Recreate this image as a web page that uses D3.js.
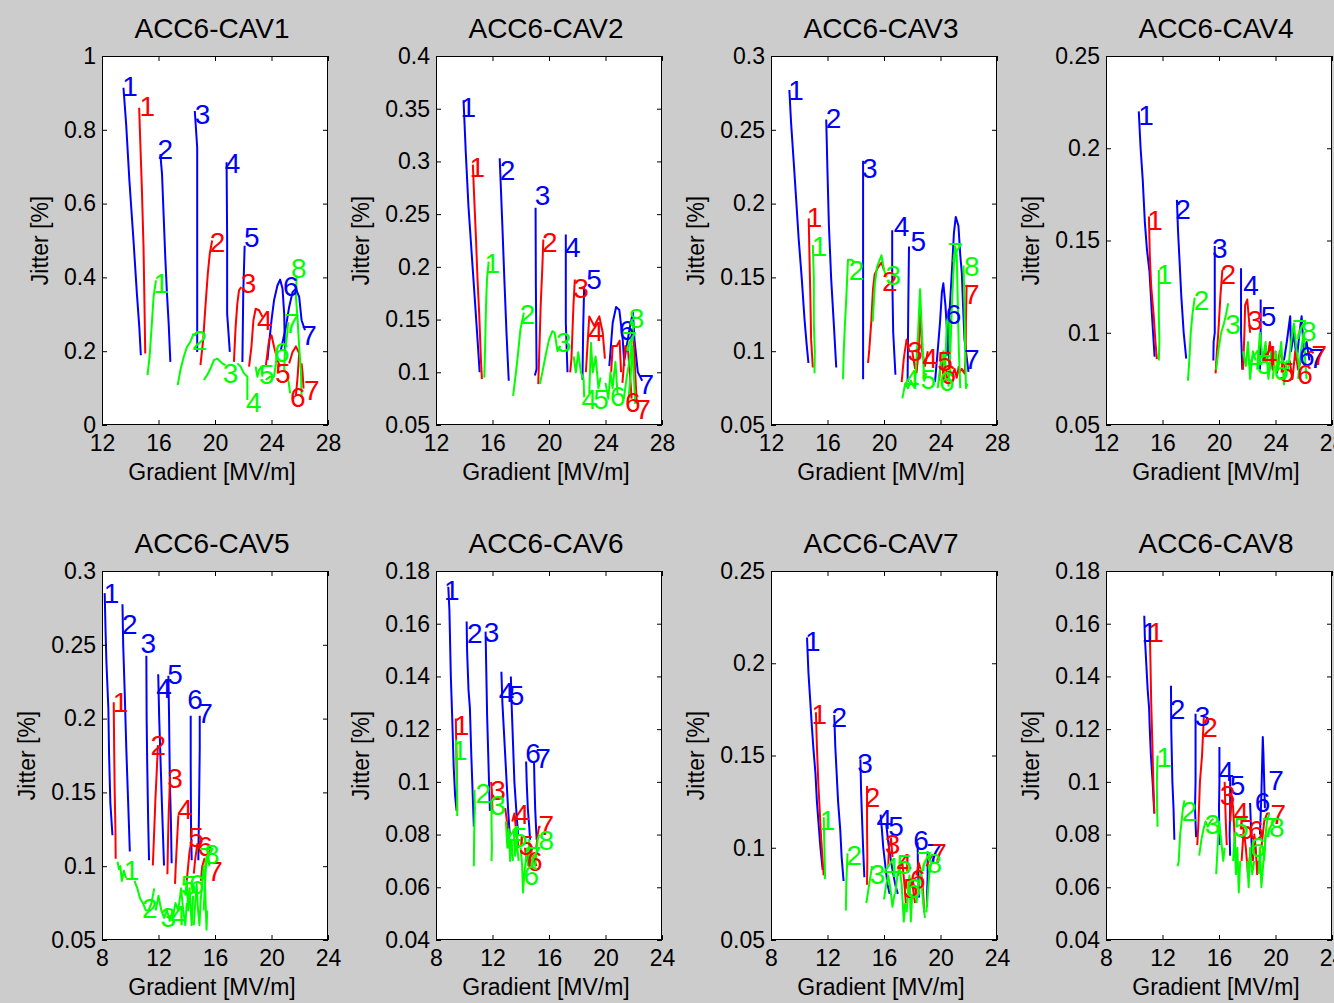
<!DOCTYPE html>
<html>
<head>
<meta charset="utf-8">
<script src="https://cdn.jsdelivr.net/npm/d3@7"></script>
<style>
  html, body { margin: 0; padding: 0; background: #cccccc; }
  svg { display: block; }
</style>
</head>
<body>
<svg id="fig" width="1334" height="1003"></svg>
<script>
// ---- panel set-up -------------------------------------------------------
const titles = ["ACC6-CAV1", "ACC6-CAV2", "ACC6-CAV3", "ACC6-CAV4",
                "ACC6-CAV5", "ACC6-CAV6", "ACC6-CAV7", "ACC6-CAV8"];
const xDomains = [[12, 28], [12, 28], [12, 28], [12, 28], [8, 24], [8, 24], [8, 24], [8, 24]];
const xTicks = [
  [12, 16, 20, 24, 28], [12, 16, 20, 24, 28], [12, 16, 20, 24, 28], [12, 16, 20, 24, 28],
  [8, 12, 16, 20, 24], [8, 12, 16, 20, 24], [8, 12, 16, 20, 24], [8, 12, 16, 20, 24]
];
const yDomains = [[0, 1], [0.05, 0.4], [0.05, 0.3], [0.05, 0.25],
                  [0.05, 0.3], [0.04, 0.18], [0.05, 0.25], [0.04, 0.18]];
const yTicks = [
  [0, 0.2, 0.4, 0.6, 0.8, 1],
  [0.05, 0.1, 0.15, 0.2, 0.25, 0.3, 0.35, 0.4],
  [0.05, 0.1, 0.15, 0.2, 0.25, 0.3],
  [0.05, 0.1, 0.15, 0.2, 0.25],
  [0.05, 0.1, 0.15, 0.2, 0.25, 0.3],
  [0.04, 0.06, 0.08, 0.1, 0.12, 0.14, 0.16, 0.18],
  [0.05, 0.1, 0.15, 0.2, 0.25],
  [0.04, 0.06, 0.08, 0.1, 0.12, 0.14, 0.16, 0.18]
];
const xLabel = "Gradient [MV/m]";
const yLabel = "Jitter [%]";

// ---- measured traces ------------------------------------------------------
// each entry: [colour key, run number, label gradient, label jitter, [[gradient, jitter], ...]]
const cav1 = [
  ["b", 1, 13.99, 0.919, [[13.52, 0.914], [13.71, 0.815], [13.94, 0.662], [14.23, 0.5], [14.47, 0.356], [14.64, 0.266], [14.75, 0.189]]],
  ["b", 2, 16.48, 0.749, [[16.13, 0.734], [16.25, 0.68], [16.36, 0.572], [16.48, 0.455], [16.6, 0.356], [16.72, 0.275], [16.84, 0.171]]],
  ["b", 3, 19.11, 0.843, [[18.57, 0.851], [18.74, 0.752], [18.74, 0.5], [18.74, 0.198]]],
  ["b", 4, 21.25, 0.711, [[20.82, 0.712], [20.86, 0.5], [20.86, 0.302], [21.05, 0.198]]],
  ["b", 5, 22.6, 0.511, [[22.1, 0.486], [22.0, 0.356], [21.94, 0.171]]],
  ["b", 6, 25.37, 0.378, [[23.71, 0.176], [23.83, 0.221], [24.0, 0.284], [24.18, 0.338], [24.42, 0.378], [24.61, 0.394], [24.78, 0.37], [24.9, 0.3], [24.95, 0.2]]],
  ["b", 7, 26.65, 0.243, [[24.66, 0.203], [25.02, 0.266], [25.25, 0.32], [25.49, 0.36], [25.73, 0.369], [25.96, 0.347], [26.13, 0.284], [26.37, 0.257]]],
  ["r", 1, 15.2, 0.865, [[14.63, 0.86], [14.7, 0.779], [14.82, 0.644], [14.94, 0.482], [15.01, 0.32], [15.06, 0.194]]],
  ["r", 2, 20.18, 0.497, [[18.97, 0.162], [19.16, 0.23], [19.32, 0.32], [19.49, 0.41], [19.63, 0.464], [19.8, 0.5]]],
  ["r", 3, 22.38, 0.386, [[21.34, 0.171], [21.46, 0.266], [21.58, 0.329], [21.7, 0.365], [21.86, 0.374]]],
  ["r", 4, 23.52, 0.284, [[22.41, 0.158], [22.58, 0.212], [22.72, 0.284], [22.88, 0.315], [23.12, 0.311], [23.36, 0.293]]],
  ["r", 5, 24.8, 0.141, [[23.59, 0.158], [23.83, 0.23], [24.0, 0.243], [24.18, 0.212], [24.42, 0.176], [24.61, 0.158]]],
  ["r", 6, 25.87, 0.076, [[25.25, 0.167], [25.49, 0.198], [25.73, 0.213], [25.96, 0.194], [25.85, 0.131], [25.73, 0.081]]],
  ["r", 7, 26.86, 0.095, [[26.13, 0.167], [26.2, 0.14], [26.27, 0.099]]],
  ["g", 1, 16.2, 0.384, [[15.22, 0.135], [15.37, 0.185], [15.53, 0.275], [15.65, 0.347], [15.82, 0.392]]],
  ["g", 2, 18.9, 0.23, [[17.36, 0.108], [17.55, 0.149], [17.79, 0.185], [18.02, 0.212], [18.25, 0.225], [18.49, 0.248]]],
  ["g", 3, 21.1, 0.141, [[19.21, 0.122], [19.44, 0.135], [19.68, 0.153], [19.92, 0.176], [20.16, 0.18], [20.51, 0.167], [20.75, 0.162]]],
  ["g", 4, 22.74, 0.062, [[21.58, 0.167], [21.82, 0.158], [22.05, 0.14], [22.29, 0.131], [22.29, 0.068]]],
  ["g", 5, 23.66, 0.138, [[22.88, 0.158], [23.0, 0.131], [23.12, 0.149], [23.29, 0.158], [23.36, 0.131]]],
  ["g", 6, 24.73, 0.197, [[23.59, 0.122], [23.9, 0.131], [24.18, 0.131], [24.31, 0.167], [24.38, 0.198]]],
  ["g", 7, 25.44, 0.276, [[25.32, 0.086], [25.13, 0.14], [24.9, 0.149], [24.94, 0.194], [25.09, 0.239], [25.18, 0.279]]],
  ["g", 8, 25.94, 0.427, [[25.78, 0.405], [25.73, 0.347], [25.85, 0.284], [25.96, 0.212], [26.08, 0.149], [26.13, 0.077]]]
];

const cav2 = [
  ["b", 1, 14.28, 0.352, [[13.95, 0.358], [14.11, 0.308], [14.3, 0.257], [14.54, 0.21], [14.78, 0.163], [14.94, 0.131], [15.09, 0.1]]],
  ["b", 2, 17.06, 0.292, [[16.51, 0.303], [16.7, 0.2385], [16.84, 0.188], [16.99, 0.1377], [17.15, 0.0919]]],
  ["b", 3, 19.55, 0.268, [[19.05, 0.256], [19.07, 0.1818], [19.12, 0.103], [19.0, 0.097]]],
  ["b", 4, 21.69, 0.219, [[21.19, 0.2307], [21.19, 0.147], [21.31, 0.1]]],
  ["b", 5, 23.18, 0.189, [[22.49, 0.1818], [22.42, 0.141], [22.37, 0.093]]],
  ["b", 6, 25.5, 0.14, [[24.27, 0.106], [24.51, 0.147], [24.75, 0.162], [24.98, 0.159], [25.22, 0.131], [25.34, 0.106]]],
  ["b", 7, 26.89, 0.0888, [[25.34, 0.112], [25.7, 0.141], [25.94, 0.157], [26.05, 0.131], [26.29, 0.1], [26.6, 0.092]]],
  ["r", 1, 14.92, 0.295, [[14.61, 0.297], [14.71, 0.264], [14.83, 0.227], [14.94, 0.188], [15.06, 0.155], [15.18, 0.112], [15.25, 0.0935]]],
  ["r", 2, 20.05, 0.224, [[19.24, 0.0888], [19.34, 0.131], [19.41, 0.163], [19.53, 0.2], [19.6, 0.226]]],
  ["r", 3, 22.26, 0.18, [[21.5, 0.1], [21.59, 0.113], [21.66, 0.138], [21.73, 0.163], [21.83, 0.188]]],
  ["r", 4, 23.32, 0.139, [[22.61, 0.1], [22.85, 0.153], [23.2, 0.144], [23.56, 0.153], [23.8, 0.138], [23.96, 0.113]]],
  ["r", 5, null, null, [[24.4, 0.1], [24.51, 0.125], [24.8, 0.125], [25.0, 0.13], [25.1, 0.1]]],
  ["r", 6, 25.94, 0.0715, [[25.2, 0.09], [25.4, 0.125], [25.6, 0.12], [25.75, 0.095], [25.85, 0.075]]],
  ["r", 7, 26.65, 0.065, [[26.0, 0.13], [26.1, 0.1], [26.2, 0.075], [26.3, 0.07]]],
  ["g", 1, 15.99, 0.204, [[15.42, 0.0951], [15.49, 0.131], [15.54, 0.163], [15.61, 0.188], [15.73, 0.205]]],
  ["g", 2, 18.48, 0.155, [[17.46, 0.0777], [17.63, 0.0967], [17.79, 0.1156], [17.98, 0.1409], [18.22, 0.1566]]],
  ["g", 3, 21.05, 0.129, [[19.36, 0.089], [19.53, 0.0999], [19.76, 0.116], [20.0, 0.131], [20.24, 0.139], [20.4, 0.1377], [20.6, 0.12], [20.8, 0.125]]],
  ["g", 4, 22.85, 0.0746, [[21.74, 0.115], [21.9, 0.1], [22.07, 0.119], [22.26, 0.1], [22.45, 0.0935], [22.49, 0.0762]]],
  ["g", 5, 23.68, 0.0746, [[22.85, 0.08], [22.97, 0.128], [23.1, 0.1], [23.3, 0.115], [23.5, 0.085], [23.65, 0.095]]],
  ["g", 6, 24.87, 0.0777, [[24.0, 0.09], [24.2, 0.075], [24.35, 0.1], [24.5, 0.085], [24.7, 0.11], [24.85, 0.08]]],
  ["g", 7, 25.69, 0.13, [[25.6, 0.07], [25.8, 0.1], [25.9, 0.125], [26.0, 0.1], [26.1, 0.07]]],
  ["g", 8, 26.2, 0.152, [[25.3, 0.075], [25.5, 0.095], [25.8, 0.12], [26.0, 0.148]]]
];

const cav3 = [
  ["b", 1, 13.78, 0.277, [[13.3, 0.277], [13.42, 0.255], [13.61, 0.228], [13.78, 0.203], [13.96, 0.176], [14.18, 0.149], [14.37, 0.122], [14.53, 0.104], [14.65, 0.092]]],
  ["b", 2, 16.43, 0.258, [[15.91, 0.257], [16.0, 0.221], [16.1, 0.185], [16.26, 0.149], [16.45, 0.118], [16.62, 0.089]]],
  ["b", 3, 18.99, 0.224, [[18.52, 0.229], [18.52, 0.18], [18.52, 0.13], [18.52, 0.081]]],
  ["b", 4, 21.25, 0.185, [[20.58, 0.182], [20.58, 0.153], [20.65, 0.113], [20.81, 0.084]]],
  ["b", 5, 22.43, 0.175, [[21.77, 0.171], [21.72, 0.131], [21.67, 0.079]]],
  ["b", 6, 24.92, 0.125, [[23.61, 0.079], [23.8, 0.1], [23.97, 0.12], [24.1, 0.14], [24.2, 0.146], [24.35, 0.131], [24.5, 0.108], [24.68, 0.086]]],
  ["b", 7, 26.22, 0.0946, [[24.44, 0.097], [24.6, 0.12], [24.8, 0.153], [24.95, 0.18], [25.08, 0.191], [25.27, 0.185], [25.4, 0.165], [25.51, 0.153], [25.6, 0.13], [25.7, 0.108], [25.98, 0.086]]],
  ["r", 1, 15.08, 0.191, [[14.67, 0.19], [14.72, 0.166], [14.79, 0.135], [14.84, 0.108], [14.96, 0.089]]],
  ["r", 2, 20.41, 0.1475, [[18.87, 0.092], [18.95, 0.1], [19.1, 0.12], [19.22, 0.142], [19.34, 0.152], [19.58, 0.157], [19.82, 0.16], [20.0, 0.155]]],
  ["r", 3, 22.19, 0.1, [[21.25, 0.079], [21.4, 0.095], [21.6, 0.108], [21.8, 0.1], [22.0, 0.1], [22.2, 0.088]]],
  ["r", 4, 23.26, 0.0957, [[22.3, 0.085], [22.45, 0.1], [22.55, 0.13], [22.7, 0.1], [22.9, 0.09], [23.1, 0.1]]],
  ["r", 5, 24.33, 0.0934, [[23.9, 0.08], [24.05, 0.095], [24.2, 0.085], [24.35, 0.088], [24.5, 0.08]]],
  ["r", 6, 24.56, 0.0845, [[24.8, 0.083], [25.0, 0.088], [25.15, 0.082], [25.3, 0.09]]],
  ["r", 7, 26.22, 0.1385, [[25.3, 0.085], [25.5, 0.088], [25.7, 0.085], [25.78, 0.095], [25.8, 0.12], [25.85, 0.145]]],
  ["g", 1, 15.43, 0.171, [[14.96, 0.172], [15.03, 0.15], [15.03, 0.12], [15.1, 0.1], [15.08, 0.085]]],
  ["g", 2, 18.05, 0.155, [[17.1, 0.081], [17.15, 0.1], [17.22, 0.115], [17.35, 0.14], [17.45, 0.162], [17.7, 0.162], [17.95, 0.16]]],
  ["g", 3, 20.65, 0.152, [[19.2, 0.12], [19.35, 0.145], [19.5, 0.157], [19.82, 0.165], [20.0, 0.155], [20.2, 0.15]]],
  ["g", 4, 21.96, 0.081, [[21.3, 0.068], [21.5, 0.078], [21.7, 0.075], [21.9, 0.08], [22.1, 0.076], [22.3, 0.079]]],
  ["g", 5, 23.14, 0.081, [[22.2, 0.08], [22.4, 0.11], [22.55, 0.142], [22.7, 0.11], [22.85, 0.08], [23.0, 0.085]]],
  ["g", 6, 24.45, 0.08, [[23.8, 0.075], [24.0, 0.09], [24.2, 0.1], [24.3, 0.08], [24.45, 0.12], [24.6, 0.125], [24.7, 0.085]]],
  ["g", 7, 25.04, 0.167, [[24.56, 0.076], [24.7, 0.1], [24.8, 0.13], [24.95, 0.16], [25.03, 0.171], [25.15, 0.165], [25.3, 0.1], [25.4, 0.075]]],
  ["g", 8, 26.22, 0.158, [[25.63, 0.158], [25.7, 0.13], [25.75, 0.1], [25.8, 0.075], [25.9, 0.078]]]
];

const cav4 = [
  ["b", 1, 14.84, 0.218, [[14.32, 0.22], [14.45, 0.2], [14.6, 0.183], [14.75, 0.16], [14.9, 0.145], [15.08, 0.133], [15.25, 0.11], [15.44, 0.087]]],
  ["b", 2, 17.45, 0.167, [[17.02, 0.172], [17.1, 0.155], [17.2, 0.14], [17.33, 0.12], [17.5, 0.1], [17.68, 0.086]]],
  ["b", 3, 20.06, 0.146, [[19.7, 0.147], [19.7, 0.1], [19.62, 0.095], [19.6, 0.085]]],
  ["b", 4, 22.27, 0.126, [[21.56, 0.135], [21.56, 0.1], [21.65, 0.08]]],
  ["b", 5, 23.5, 0.109, [[22.95, 0.118], [22.95, 0.1], [22.9, 0.08]]],
  ["b", 6, 26.22, 0.0876, [[24.6, 0.085], [24.8, 0.095], [25.04, 0.109], [25.1, 0.09], [25.3, 0.1], [25.5, 0.085]]],
  ["b", 7, 26.93, 0.0866, [[25.5, 0.085], [25.7, 0.1], [25.85, 0.109], [26.0, 0.09], [26.2, 0.095], [26.4, 0.085]]],
  ["r", 1, 15.48, 0.161, [[15.04, 0.163], [15.1, 0.142], [15.2, 0.125], [15.37, 0.11], [15.5, 0.095], [15.6, 0.0857]]],
  ["r", 2, 20.65, 0.132, [[19.76, 0.078], [19.85, 0.09], [19.95, 0.1], [20.1, 0.12], [20.24, 0.134]]],
  ["r", 3, 22.55, 0.107, [[21.7, 0.08], [21.8, 0.1], [21.85, 0.115], [22.0, 0.118], [22.2, 0.1]]],
  ["r", 4, 23.6, 0.088, [[23.2, 0.09], [23.4, 0.085], [23.6, 0.095], [23.8, 0.08], [24.0, 0.09]]],
  ["r", 5, 24.8, 0.0785, [[24.1, 0.078], [24.3, 0.09], [24.5, 0.085], [24.7, 0.08]]],
  ["r", 6, 26.1, 0.0776, [[25.0, 0.085], [25.2, 0.075], [25.4, 0.09], [25.6, 0.08], [25.8, 0.085]]],
  ["r", 7, 27.1, 0.088, [[26.0, 0.09], [26.2, 0.088], [26.5, 0.09], [26.7, 0.089]]],
  ["g", 1, 16.15, 0.132, [[15.74, 0.134], [15.74, 0.11], [15.78, 0.095], [15.74, 0.085]]],
  ["g", 2, 18.76, 0.118, [[17.8, 0.074], [17.9, 0.085], [18.0, 0.1], [18.12, 0.11], [18.28, 0.119]]],
  ["g", 3, 21.0, 0.105, [[19.8, 0.08], [19.95, 0.09], [20.15, 0.1], [20.35, 0.105], [20.5, 0.11], [20.65, 0.116]]],
  ["g", 4, 22.55, 0.0857, [[21.7, 0.09], [21.9, 0.082], [22.05, 0.095], [22.2, 0.075], [22.4, 0.09], [22.6, 0.085]]],
  ["g", 5, 23.2, 0.083, [[22.7, 0.08], [22.9, 0.1], [23.1, 0.085], [23.3, 0.095], [23.5, 0.075], [23.7, 0.09]]],
  ["g", 6, 24.4, 0.08, [[23.8, 0.075], [24.0, 0.09], [24.2, 0.08], [24.4, 0.095], [24.6, 0.072], [24.8, 0.085]]],
  ["g", 7, 25.7, 0.102, [[24.9, 0.08], [25.1, 0.095], [25.3, 0.105], [25.5, 0.09], [25.7, 0.08]]],
  ["g", 8, 26.35, 0.101, [[25.6, 0.075], [25.8, 0.09], [26.0, 0.1], [26.1, 0.085], [26.2, 0.075]]]
];

const cav5 = [
  ["b", 1, 8.67, 0.2853, [[8.19, 0.285], [8.25, 0.26], [8.31, 0.239], [8.45, 0.207], [8.5, 0.176], [8.59, 0.143], [8.74, 0.121]]],
  ["b", 2, 9.97, 0.264, [[9.45, 0.2775], [9.5, 0.25], [9.61, 0.217], [9.72, 0.18], [9.78, 0.163], [9.9, 0.13], [9.97, 0.11]]],
  ["b", 3, 11.27, 0.2516, [[11.14, 0.2426], [11.16, 0.2], [11.2, 0.17], [11.27, 0.13], [11.33, 0.104]]],
  ["b", 4, 12.39, 0.221, [[11.98, 0.23], [12.05, 0.2], [12.15, 0.17], [12.25, 0.14], [12.39, 0.1005]]],
  ["b", 5, 13.17, 0.23, [[12.7, 0.229], [12.75, 0.2], [12.8, 0.16], [12.88, 0.13], [12.93, 0.102]]],
  ["b", 6, 14.59, 0.213, [[14.28, 0.202], [14.28, 0.17], [14.3, 0.13], [14.35, 0.104]]],
  ["b", 7, 15.3, 0.204, [[14.92, 0.202], [14.92, 0.18], [14.87, 0.14], [14.82, 0.104]]],
  ["r", 1, 9.31, 0.211, [[8.83, 0.211], [8.86, 0.18], [8.9, 0.15], [8.95, 0.125], [8.97, 0.105]]],
  ["r", 2, 11.98, 0.182, [[11.6, 0.1005], [11.68, 0.12], [11.78, 0.145], [11.88, 0.165], [11.96, 0.182]]],
  ["r", 3, 13.17, 0.16, [[12.63, 0.0945], [12.67, 0.115], [12.72, 0.135], [12.78, 0.15], [12.81, 0.161]]],
  ["r", 4, 13.88, 0.139, [[13.17, 0.088], [13.22, 0.1], [13.3, 0.115], [13.41, 0.1345]]],
  ["r", 5, 14.66, 0.12, [[14.0, 0.09], [14.1, 0.1], [14.2, 0.11], [14.35, 0.118]]],
  ["r", 6, 15.3, 0.114, [[14.5, 0.095], [14.6, 0.105], [14.75, 0.115], [14.9, 0.112]]],
  ["r", 7, 16.01, 0.097, [[15.0, 0.09], [15.1, 0.1], [15.25, 0.105], [15.4, 0.1]]],
  ["g", 1, 10.09, 0.0973, [[9.1, 0.103], [9.2, 0.098], [9.3, 0.1], [9.4, 0.09], [9.55, 0.097], [9.7, 0.092]]],
  ["g", 2, 11.39, 0.0714, [[10.3, 0.09], [10.5, 0.085], [10.7, 0.078], [10.9, 0.075], [11.1, 0.07], [11.3, 0.07], [11.5, 0.075], [11.7, 0.085]]],
  ["g", 3, 12.69, 0.0658, [[11.8, 0.07], [12.0, 0.08], [12.2, 0.07], [12.4, 0.065], [12.6, 0.07], [12.8, 0.063], [13.0, 0.07]]],
  ["g", 4, 13.4, 0.067, [[13.0, 0.065], [13.2, 0.075], [13.4, 0.07], [13.6, 0.085], [13.75, 0.07], [13.9, 0.06], [14.0, 0.075]]],
  ["g", 5, 14.12, 0.087, [[13.9, 0.08], [14.0, 0.09], [14.1, 0.07], [14.2, 0.085], [14.35, 0.06], [14.45, 0.08]]],
  ["g", 6, 14.71, 0.088, [[14.5, 0.06], [14.6, 0.075], [14.7, 0.088], [14.8, 0.07], [14.9, 0.06], [15.0, 0.08]]],
  ["g", 7, 15.42, 0.106, [[15.0, 0.078], [15.1, 0.09], [15.2, 0.1], [15.3, 0.085], [15.4, 0.057], [15.45, 0.07]]],
  ["g", 8, 15.78, 0.1085, [[15.2, 0.07], [15.3, 0.09], [15.4, 0.105], [15.5, 0.11], [15.6, 0.1]]]
];

const cav6 = [
  ["b", 1, 9.11, 0.1728, [[8.87, 0.174], [8.95, 0.165], [8.99, 0.155], [9.05, 0.14], [9.15, 0.124], [9.25, 0.106], [9.35, 0.095], [9.46, 0.089]]],
  ["b", 2, 10.75, 0.1564, [[10.17, 0.1608], [10.2, 0.15], [10.3, 0.135], [10.4, 0.128], [10.5, 0.11], [10.6, 0.095], [10.68, 0.083]]],
  ["b", 3, 11.93, 0.157, [[11.51, 0.157], [11.55, 0.145], [11.62, 0.125], [11.7, 0.11], [11.78, 0.095], [11.82, 0.089]]],
  ["b", 4, 12.99, 0.134, [[12.63, 0.1418], [12.7, 0.13], [12.8, 0.12], [12.9, 0.11], [13.0, 0.1], [13.1, 0.09], [13.22, 0.08]]],
  ["b", 5, 13.7, 0.133, [[13.3, 0.14], [13.35, 0.13], [13.45, 0.115], [13.55, 0.1], [13.7, 0.088], [13.81, 0.08]]],
  ["b", 6, 14.87, 0.111, [[14.38, 0.1077], [14.42, 0.1], [14.5, 0.09], [14.6, 0.083], [14.66, 0.078]]],
  ["b", 7, 15.57, 0.109, [[14.94, 0.1077], [14.97, 0.1], [15.02, 0.09], [15.08, 0.083], [15.13, 0.078]]],
  ["r", 1, 9.81, 0.1216, [[9.4, 0.124], [9.45, 0.11], [9.48, 0.1], [9.5, 0.089]]],
  ["r", 2, null, null, [[11.9, 0.1], [11.95, 0.097], [11.98, 0.092], [12.0, 0.088]]],
  ["r", 3, 12.4, 0.097, [[12.9, 0.09], [13.0, 0.086], [13.1, 0.08], [13.2, 0.075], [13.3, 0.078]]],
  ["r", 4, 14.05, 0.088, [[13.4, 0.085], [13.55, 0.088], [13.7, 0.08], [13.85, 0.075]]],
  ["r", 5, 14.4, 0.076, [[14.3, 0.075], [14.4, 0.07], [14.5, 0.073], [14.6, 0.068], [14.7, 0.07]]],
  ["r", 6, 15.0, 0.07, [[14.8, 0.068], [14.9, 0.072], [15.0, 0.07], [15.1, 0.068]]],
  ["r", 7, 15.81, 0.0836, [[15.1, 0.075], [15.2, 0.08], [15.3, 0.083], [15.4, 0.083]]],
  ["g", 1, 9.69, 0.112, [[9.42, 0.116], [9.46, 0.105], [9.5, 0.095], [9.5, 0.087]]],
  ["g", 2, 11.34, 0.0957, [[10.68, 0.068], [10.7, 0.08], [10.75, 0.09], [10.72, 0.097]]],
  ["g", 3, 12.4, 0.0912, [[11.93, 0.093], [11.93, 0.085], [11.96, 0.075], [11.93, 0.07]]],
  ["g", 4, 13.5, 0.08, [[12.95, 0.085], [13.05, 0.075], [13.15, 0.082], [13.25, 0.07], [13.35, 0.078], [13.45, 0.07]]],
  ["g", 5, 13.93, 0.079, [[13.5, 0.082], [13.6, 0.072], [13.7, 0.078], [13.85, 0.07]]],
  ["g", 6, 14.75, 0.0647, [[14.0, 0.075], [14.1, 0.068], [14.16, 0.058], [14.25, 0.065], [14.35, 0.07], [14.45, 0.075]]],
  ["g", 7, 14.9, 0.072, [[14.5, 0.068], [14.6, 0.078], [14.7, 0.07], [14.8, 0.075]]],
  ["g", 8, 15.81, 0.078, [[15.0, 0.068], [15.1, 0.072], [15.2, 0.078], [15.3, 0.08]]]
];

const cav7 = [
  ["b", 1, 10.95, 0.212, [[10.55, 0.214], [10.65, 0.195], [10.75, 0.183], [10.9, 0.165], [11.0, 0.154], [11.15, 0.14], [11.25, 0.125], [11.4, 0.11], [11.5, 0.1], [11.66, 0.088]]],
  ["b", 2, 12.84, 0.1707, [[12.48, 0.172], [12.55, 0.155], [12.65, 0.14], [12.75, 0.125], [12.9, 0.11], [13.0, 0.095], [13.14, 0.082]]],
  ["b", 3, 14.65, 0.146, [[14.33, 0.148], [14.38, 0.13], [14.45, 0.115], [14.52, 0.1], [14.61, 0.084]]],
  ["b", 4, 16.02, 0.1158, [[15.76, 0.118], [15.85, 0.11], [15.95, 0.1], [16.1, 0.09], [16.25, 0.08], [16.4, 0.075]]],
  ["b", 5, 16.85, 0.112, [[16.16, 0.1127], [16.3, 0.103], [16.45, 0.095], [16.6, 0.088], [16.8, 0.08], [16.98, 0.075]]],
  ["b", 6, 18.62, 0.104, [[18.38, 0.103], [18.4, 0.09], [18.45, 0.08], [18.48, 0.073]]],
  ["b", 7, 19.56, 0.097, [[19.09, 0.098], [19.09, 0.085], [19.05, 0.075], [19.05, 0.068]]],
  ["r", 1, 11.42, 0.1725, [[11.18, 0.1734], [11.25, 0.155], [11.35, 0.135], [11.45, 0.12], [11.55, 0.105], [11.73, 0.085]]],
  ["r", 2, 15.19, 0.1275, [[14.8, 0.1335], [14.8, 0.11], [14.82, 0.095], [14.8, 0.08]]],
  ["r", 3, 16.61, 0.1023, [[16.3, 0.09], [16.35, 0.1], [16.5, 0.105], [16.6, 0.095]]],
  ["r", 4, 17.44, 0.092, [[17.0, 0.085], [17.15, 0.09], [17.3, 0.092], [17.45, 0.08], [17.55, 0.07]]],
  ["r", 5, 17.9, 0.078, [[17.6, 0.08], [17.75, 0.075], [17.9, 0.083], [18.05, 0.078], [18.2, 0.07]]],
  ["r", 6, 18.4, 0.083, [[18.3, 0.085], [18.45, 0.092], [18.6, 0.088], [18.75, 0.078], [18.85, 0.065]]],
  ["r", 7, 19.9, 0.097, [[19.0, 0.09], [19.2, 0.093], [19.4, 0.096], [19.6, 0.095]]],
  ["g", 1, 12.0, 0.115, [[11.73, 0.1166], [11.78, 0.1], [11.83, 0.083]]],
  ["g", 2, 13.9, 0.096, [[13.3, 0.066], [13.33, 0.08], [13.38, 0.09], [13.42, 0.097]]],
  ["g", 3, 15.55, 0.086, [[14.75, 0.07], [14.85, 0.075], [14.95, 0.08], [15.05, 0.085], [15.15, 0.09]]],
  ["g", 4, 16.5, 0.0896, [[16.0, 0.072], [16.15, 0.08], [16.3, 0.085], [16.45, 0.078], [16.6, 0.068], [16.75, 0.075]]],
  ["g", 5, 17.44, 0.0914, [[16.8, 0.075], [16.95, 0.085], [17.1, 0.09], [17.25, 0.08], [17.4, 0.06], [17.5, 0.07]]],
  ["g", 6, 18.1, 0.078, [[17.6, 0.065], [17.7, 0.075], [17.8, 0.085], [17.9, 0.06], [18.0, 0.075]]],
  ["g", 7, 18.85, 0.093, [[18.3, 0.07], [18.45, 0.08], [18.6, 0.088], [18.75, 0.072], [18.9, 0.062]]],
  ["g", 8, 19.56, 0.092, [[19.0, 0.065], [19.1, 0.075], [19.2, 0.085], [19.35, 0.092]]]
];

const cav8 = [
  ["b", 1, 11.07, 0.157, [[10.71, 0.163], [10.75, 0.155], [10.85, 0.145], [10.95, 0.135], [11.05, 0.128], [11.1, 0.12], [11.18, 0.11], [11.3, 0.1], [11.42, 0.088]]],
  ["b", 2, 13.07, 0.1277, [[12.6, 0.1365], [12.62, 0.12], [12.7, 0.1], [12.78, 0.09], [12.84, 0.078]]],
  ["b", 3, 14.84, 0.1251, [[14.34, 0.1258], [14.34, 0.1], [14.3, 0.09], [14.38, 0.079]]],
  ["b", 4, 16.5, 0.104, [[16.03, 0.1132], [16.03, 0.1], [16.0, 0.09], [16.03, 0.076]]],
  ["b", 5, 17.32, 0.099, [[16.79, 0.102], [16.79, 0.09], [16.75, 0.08], [16.79, 0.072]]],
  ["b", 6, 19.09, 0.0924, [[18.2, 0.092], [18.25, 0.085], [18.3, 0.078], [18.35, 0.07]]],
  ["b", 7, 20.03, 0.1006, [[18.9, 0.08], [19.0, 0.095], [19.1, 0.117], [19.15, 0.11], [19.2, 0.1], [19.25, 0.09]]],
  ["r", 1, 11.54, 0.1567, [[11.11, 0.155], [11.15, 0.145], [11.2, 0.13], [11.28, 0.115], [11.35, 0.1], [11.42, 0.088]]],
  ["r", 2, 15.36, 0.1207, [[14.46, 0.076], [14.55, 0.085], [14.65, 0.1], [14.8, 0.11], [14.93, 0.125]]],
  ["r", 3, 16.61, 0.0949, [[16.4, 0.1], [16.45, 0.09], [16.5, 0.082], [16.55, 0.076]]],
  ["r", 4, 17.56, 0.0886, [[16.8, 0.085], [16.9, 0.095], [17.0, 0.09], [17.1, 0.08], [17.2, 0.07]]],
  ["r", 5, 17.91, 0.082, [[17.6, 0.07], [17.75, 0.082], [17.9, 0.075], [18.05, 0.065], [18.2, 0.072]]],
  ["r", 6, 18.62, 0.0817, [[18.4, 0.07], [18.5, 0.08], [18.6, 0.075], [18.7, 0.065], [18.8, 0.07]]],
  ["r", 7, 20.2, 0.088, [[19.0, 0.075], [19.2, 0.085], [19.4, 0.088], [19.6, 0.088]]],
  ["g", 1, 12.13, 0.1094, [[11.65, 0.11], [11.6, 0.1], [11.62, 0.09], [11.65, 0.083]]],
  ["g", 2, 13.9, 0.0889, [[13.07, 0.068], [13.15, 0.07], [13.25, 0.08], [13.35, 0.085], [13.45, 0.09], [13.55, 0.093]]],
  ["g", 3, 15.55, 0.0839, [[14.6, 0.072], [14.75, 0.078], [14.9, 0.082], [15.05, 0.085], [15.2, 0.083], [15.4, 0.085], [15.6, 0.086]]],
  ["g", 4, null, null, [[15.8, 0.065], [15.9, 0.075], [16.0, 0.085], [16.15, 0.078], [16.3, 0.07], [16.4, 0.075]]],
  ["g", 5, 17.56, 0.083, [[17.0, 0.07], [17.1, 0.08], [17.2, 0.065], [17.3, 0.075], [17.4, 0.058], [17.5, 0.07]]],
  ["g", 6, 18.74, 0.0753, [[18.0, 0.07], [18.1, 0.06], [18.2, 0.075], [18.35, 0.065], [18.5, 0.07]]],
  ["g", 7, 19.56, 0.083, [[18.8, 0.065], [18.9, 0.075], [19.0, 0.06], [19.15, 0.07], [19.3, 0.08]]],
  ["g", 8, 20.1, 0.083, [[19.2, 0.07], [19.3, 0.08], [19.4, 0.085], [19.55, 0.088]]]
];

const panels = [cav1, cav2, cav3, cav4, cav5, cav6, cav7, cav8];

// ---- drawing ----------------------------------------------------------------
const FONT = "'Liberation Sans', Arial, Helvetica, sans-serif";
const palette = { b: "#0000ff", r: "#ff0000", g: "#00ff00" };
const colLeft = [102, 436, 771, 1106];
const rowTop = [56, 571];
const W = 226, H = 369;
const fmt = v => String(+v.toFixed(2));

const svg = d3.select("#fig");
svg.append("rect").attr("width", 1334).attr("height", 1003).attr("fill", "#cccccc");
const defs = svg.append("defs");

panels.forEach((traces, i) => {
  const left = colLeft[i % 4];
  const top = rowTop[Math.floor(i / 4)];
  const x = d3.scaleLinear().domain(xDomains[i]).range([left, left + W]);
  const y = d3.scaleLinear().domain(yDomains[i]).range([top + H, top]);

  const g = svg.append("g").attr("class", "panel");
  g.append("rect")
    .attr("x", left).attr("y", top).attr("width", W).attr("height", H)
    .attr("fill", "#ffffff");

  const clipId = "plotclip" + i;
  defs.append("clipPath").attr("id", clipId)
    .append("rect").attr("x", left).attr("y", top).attr("width", W).attr("height", H);

  const line = d3.line().x(d => x(d[0])).y(d => y(d[1]));
  const order = { b: 0, r: 1, g: 2 };
  const sorted = traces.slice().sort((a, b) => order[a[0]] - order[b[0]]);

  g.append("g").attr("clip-path", `url(#${clipId})`)
    .selectAll("path").data(sorted).join("path")
    .attr("d", d => line(d[4]))
    .attr("fill", "none")
    .attr("stroke", d => palette[d[0]])
    .attr("stroke-width", 2)
    .attr("stroke-linejoin", "round");

  g.append("g").selectAll("text").data(sorted.filter(d => d[2] !== null)).join("text")
    .attr("x", d => x(d[2]))
    .attr("y", d => y(d[3]))
    .attr("dy", "0.36em")
    .attr("text-anchor", "middle")
    .attr("font-family", FONT)
    .attr("font-size", 28)
    .attr("fill", d => palette[d[0]])
    .text(d => d[1]);

  // axes: MATLAB-style inward ticks on all four sides
  const styleAxis = sel => {
    sel.select(".domain").remove();
    sel.attr("font-family", FONT).attr("font-size", 23);
    sel.selectAll(".tick line").attr("stroke", "#000").attr("stroke-width", 1);
    sel.selectAll(".tick text").attr("fill", "#000");
  };
  g.append("g").attr("transform", `translate(0,${top + H})`)
    .call(d3.axisBottom(x).tickValues(xTicks[i]).tickSize(-5).tickPadding(10).tickFormat(fmt))
    .call(styleAxis);
  g.append("g").attr("transform", `translate(0,${top})`)
    .call(d3.axisTop(x).tickValues(xTicks[i]).tickSize(-5).tickFormat(""))
    .call(styleAxis);
  const yAx = g.append("g").attr("transform", `translate(${left},0)`)
    .call(d3.axisLeft(y).tickValues(yTicks[i]).tickSize(-5).tickPadding(6).tickFormat(fmt))
    .call(styleAxis);
  g.append("g").attr("transform", `translate(${left + W},0)`)
    .call(d3.axisRight(y).tickValues(yTicks[i]).tickSize(-5).tickFormat(""))
    .call(styleAxis);

  g.append("rect")
    .attr("x", left + 0.5).attr("y", top + 0.5).attr("width", W - 1).attr("height", H - 1)
    .attr("fill", "none").attr("stroke", "#000").attr("stroke-width", 1);

  // title and axis labels
  g.append("text")
    .attr("x", left + W / 2 - 3).attr("y", top - 18)
    .attr("text-anchor", "middle")
    .attr("font-family", FONT).attr("font-size", 28)
    .attr("fill", "#000")
    .text(titles[i]);

  g.append("text")
    .attr("x", left + W / 2 - 3).attr("y", top + H + 55)
    .attr("text-anchor", "middle")
    .attr("font-family", FONT).attr("font-size", 23)
    .attr("fill", "#000")
    .text(xLabel);

  const tickLeft = d3.min(yAx.selectAll(".tick text").nodes(), n => n.getBBox().x);
  const ylx = left + tickLeft - 24;
  g.append("text")
    .attr("transform", `translate(${ylx},${top + H / 2}) rotate(-90)`)
    .attr("dy", "0.35em")
    .attr("text-anchor", "middle")
    .attr("font-family", FONT).attr("font-size", 23)
    .attr("fill", "#000")
    .text(yLabel);
});
</script>
</body>
</html>
